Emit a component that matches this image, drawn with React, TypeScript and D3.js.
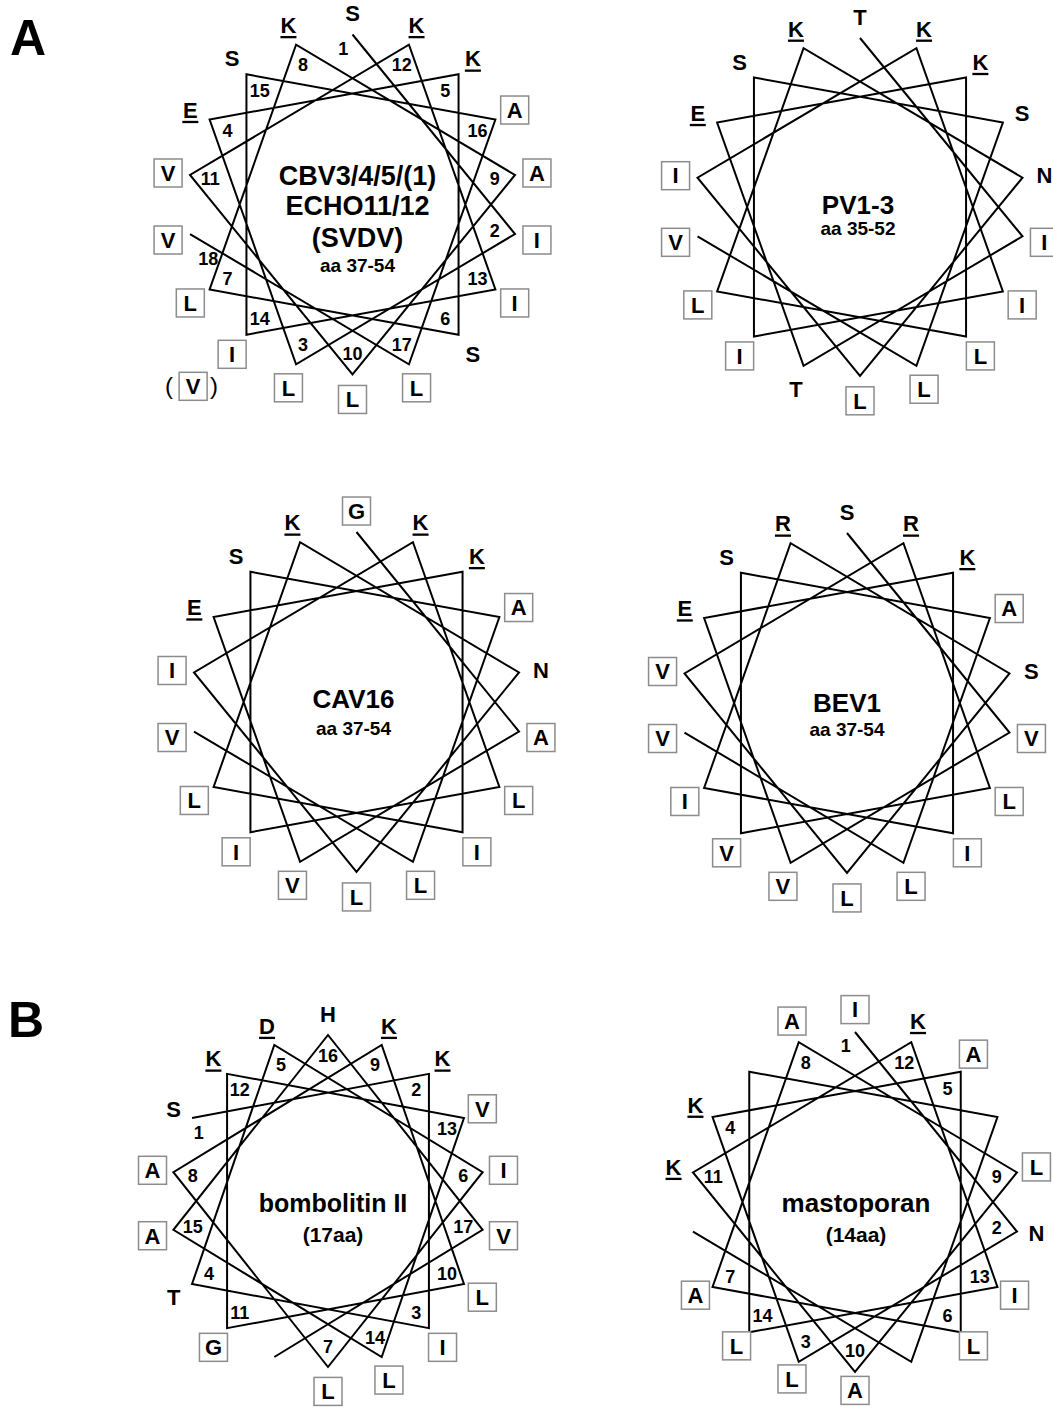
import React from 'react';
import * as d3 from 'd3';

// helical wheel sequences, residue 1 first (100 degrees per residue)
const cbvSeq = ['S', 'I', 'L', 'E', 'K', 'S', 'L', 'K', 'A', 'L', 'V', 'K', 'I', 'I', 'S', 'A', 'L', 'V'];
const pvSeq = ['T', 'I', 'T', 'E', 'K', 'L', 'L', 'K', 'N', 'L', 'I', 'K', 'I', 'I', 'S', 'S', 'L', 'V'];
const cavSeq = ['G', 'A', 'V', 'E', 'K', 'I', 'L', 'K', 'N', 'L', 'I', 'K', 'L', 'I', 'S', 'A', 'L', 'V'];
const bevSeq = ['S', 'V', 'V', 'E', 'K', 'I', 'I', 'R', 'S', 'L', 'V', 'R', 'L', 'V', 'S', 'A', 'L', 'V'];
const bombSeq = ['S', 'K', 'I', 'T', 'D', 'I', 'L', 'A', 'K', 'L', 'G', 'K', 'V', 'L', 'A', 'H', 'V'];
const mastSeq = ['I', 'N', 'L', 'K', 'A', 'L', 'A', 'A', 'L', 'A', 'K', 'K', 'I', 'L'];

const cbvTitle = ['CBV3/4/5/(1)', 'ECHO11/12', '(SVDV)', 'aa 37-54'];
const pvTitle = ['PV1-3', 'aa 35-52'];
const cavTitle = ['CAV16', 'aa 37-54'];
const bevTitle = ['BEV1', 'aa 37-54'];
const bombTitle = ['bombolitin II', '(17aa)'];
const mastTitle = ['mastoporan', '(14aa)'];

// variant residue shown under position 14 of the CBV wheel
const cbvAlt = { position: 14, residue: 'V' };

const hydrophobic = ['A', 'I', 'L', 'V', 'G'];
const charged = ['K', 'R', 'E', 'D'];

const FONT = "'Liberation Sans', Arial, Helvetica, sans-serif";
const N_POINTS = 18;

const Residue = ({ x, y, res }) => {
  const base = y + 7.8;
  return (
    <g>
      {hydrophobic.includes(res) && (
        <rect x={x - 14} y={y - 14} width={28} height={28} fill="#fff" stroke="#8c8c8c" strokeWidth={1.5} />
      )}
      <text x={x} y={base} textAnchor="middle" fontSize={22} fontWeight="bold" fontFamily={FONT}>
        {res}
      </text>
      {charged.includes(res) && <rect x={x - 8} y={base + 3} width={16} height={2.3} fill="#000" />}
    </g>
  );
};

const Wheel = ({ seq, title, cx, cy, rx, ry, rot, numbered, titleLines, titleDx, alt, labelDy = 2, labelF = 1.135 }) => {
  const angle = d3.scaleLinear().domain([0, 1]).range([rot, rot + 100]);
  const pos = (a, f) => {
    const r = (a * Math.PI) / 180;
    return [cx + f * rx * Math.sin(r), cy - f * ry * Math.cos(r)];
  };
  const pts = d3.range(N_POINTS).map(i => pos(angle(i), 1));
  const line = d3.line();

  return (
    <g>
      <path d={line(pts)} fill="none" stroke="#000" strokeWidth={2} strokeLinejoin="miter" />
      {seq.map((res, i) => {
        const [x, y] = pos(angle(i), labelF);
        return <Residue key={'r' + i} x={x} y={y + labelDy} res={res} />;
      })}
      {numbered &&
        seq.map((res, i) => {
          let a = angle(i);
          let f = 0.875;
          if (i === 0) { a -= 3.5; f = 0.92; }
          if (i === N_POINTS - 1) { a -= 10; f = 0.93; }
          const [x, y] = pos(a, f);
          return (
            <text key={'n' + i} x={x} y={y + 6.5} textAnchor="middle" fontSize={18} fontWeight="bold" fontFamily={FONT}>
              {i + 1}
            </text>
          );
        })}
      {alt && (() => {
        const [x, y] = pos(angle(alt.position - 1), labelF);
        const ax = x - 39;
        const ay = y + 34;
        return (
          <g>
            <Residue x={ax} y={ay} res={alt.residue} />
            <text x={ax - 24} y={ay + 8} textAnchor="middle" fontSize={24} fontFamily={FONT}>(</text>
            <text x={ax + 21} y={ay + 8} textAnchor="middle" fontSize={24} fontFamily={FONT}>)</text>
          </g>
        );
      })()}
      {title.map((t, i) => (
        <text key={'t' + i} x={cx + titleDx} y={cy + titleLines[i].dy} textAnchor="middle"
          fontSize={titleLines[i].size} fontWeight="bold" fontFamily={FONT}>
          {t}
        </text>
      ))}
    </g>
  );
};

export default function App() {
  return (
    <svg width={1053} height={1408} style={{ position: 'absolute', left: 0, top: 0, background: '#fff' }}>
      <text x={10} y={55} fontSize={50} fontWeight="bold" fontFamily={FONT}>A</text>
      <text x={8} y={1037} fontSize={50} fontWeight="bold" fontFamily={FONT}>B</text>

      <Wheel seq={cbvSeq} title={cbvTitle} cx={352.5} cy={204.5} rx={165} ry={170} rot={0} numbered alt={cbvAlt}
        titleDx={5}
        titleLines={[{ dy: -20, size: 27 }, { dy: 10, size: 27 }, { dy: 42, size: 27 }, { dy: 67, size: 19 }]} />
      <Wheel seq={pvSeq} title={pvTitle} cx={860} cy={207} rx={165} ry={169} rot={0}
        titleDx={-2}
        titleLines={[{ dy: 7, size: 26 }, { dy: 28, size: 19 }]} />
      <Wheel seq={cavSeq} title={cavTitle} cx={356.5} cy={702} rx={165} ry={170} rot={0}
        titleDx={-3}
        titleLines={[{ dy: 6, size: 26 }, { dy: 33, size: 19 }]} />
      <Wheel seq={bevSeq} title={bevTitle} cx={847} cy={703} rx={165} ry={170} rot={0}
        titleDx={0}
        titleLines={[{ dy: 9, size: 26 }, { dy: 33, size: 19 }]} />
      <Wheel seq={bombSeq} title={bombTitle} cx={328} cy={1201} rx={157} ry={166} rot={300} numbered
        titleDx={5}
        titleLines={[{ dy: 11, size: 25 }, { dy: 41, size: 21 }]} />
      <Wheel seq={mastSeq} title={mastTitle} cx={855} cy={1202} rx={164.5} ry={170} rot={0} numbered
        labelDy={-2} labelF={1.12} titleDx={1}
        titleLines={[{ dy: 10, size: 26 }, { dy: 40, size: 21 }]} />
    </svg>
  );
}
